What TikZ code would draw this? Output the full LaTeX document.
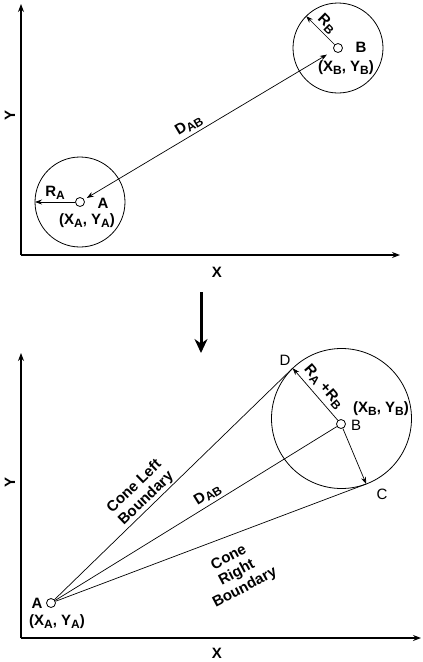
\documentclass[tikz,border=0pt]{standalone}
\usepackage{fontspec}
\setmainfont{Liberation Sans}
\usetikzlibrary{arrows.meta,positioning}
\newcommand{\idx}[1]{\raisebox{-0.35ex}{\fontsize{12}{13}\selectfont #1}}

\begin{document}
\begin{tikzpicture}[x=1pt,y=-1pt,
    every node/.style={font=\fontsize{15}{17}\selectfont\bfseries},
    plain/.style={font=\fontsize{15}{17}\selectfont},
    dot/.style={draw,circle,inner sep=0pt,minimum size=9pt,line width=0.8pt},
    ring/.style={draw,circle,inner sep=0pt,outer sep=0pt,line width=0.8pt},
    axis/.style={line width=1.1pt,-{Stealth[length=8pt,width=6pt]}},
    arr/.style={line width=0.7pt,-{Stealth[length=7pt,width=5pt]}},
    darr/.style={line width=0.7pt,{Stealth[length=7pt,width=5pt]}-{Stealth[length=7pt,width=5pt]}},
    bigarr/.style={line width=3pt,-{Stealth[length=14pt,width=13pt]}}]
  \useasboundingbox (0,0) rectangle (423,662);

  % top panel
  \coordinate (oT) at (21,255);
  \coordinate (yT) at (21,4);
  \coordinate (xT) at (400,255);
  \draw[axis] (oT) -- (yT);
  \draw[axis] (oT) -- (xT);
  \node[rotate=90] (labYT) at (10,115) {Y};
  \node (labXT) at (217,272) {X};

  \node[ring,minimum size=90pt] (cA) at (80,202) {};
  \node[dot] (pA) at (80,202) {};
  \node[ring,minimum size=90pt] (cB) at (338,48) {};
  \node[dot] (pB) at (338,48) {};

  \draw[arr] (pA.west) -- node[above,inner sep=2pt] {R\idx{A}} (cA.west);
  \draw[arr] (pB.135) -- node[above,sloped,inner sep=2pt] {R\idx{B}} (cB.135);
  \draw[darr,shorten <=3pt,shorten >=8pt] (pA) -- node[pos=0.44,above,sloped] {D\idx{AB}} (pB);

  \node (labA) at (103,203) {A};
  \node (xyA) at (87,221) {(X\idx{A}, Y\idx{A})};
  \node (labB) at (361,47) {B};
  \node (xyB) at (346,68) {(X\idx{B}, Y\idx{B})};

  % transition
  \coordinate (arTop) at (201,292);
  \coordinate (arBot) at (201,353);
  \draw[bigarr] (arTop) -- (arBot);

  % bottom panel
  \coordinate (oB) at (21,638);
  \coordinate (yB) at (21,353);
  \coordinate (xB) at (421,638);
  \draw[axis] (oB) -- (yB);
  \draw[axis] (oB) -- (xB);
  \node[rotate=90] (labYB) at (10,482) {Y};
  \node (labXB) at (217,653) {X};

  \node[dot] (pA2) at (51,603) {};
  \node[ring,minimum size=140pt] (cB2) at (341.5,418.5) {};
  \node[dot] (pB2) at (341,424) {};
  \coordinate (D) at (292.7,368.2);
  \coordinate (C) at (366.2,484);

  \draw[line width=0.7pt] (pA2) -- node[pos=0.41,above,sloped,align=center,inner sep=1pt] {Cone Left\\Boundary} (D);
  \draw[line width=0.7pt] (pA2) -- node[pos=0.56,above,sloped,inner sep=3pt] {D\idx{AB}} (pB2);
  \draw[line width=0.7pt] (pA2) -- (C);
  \draw[arr] (pB2) -- node[above,sloped,inner sep=4pt] {R\idx{A} +R\idx{B}} (D);
  \draw[arr] (pB2) -- (C);

  \node[rotate=28,align=center] (labR) at (237,573) {Cone\\Right\\Boundary};
  \node[plain] (labD) at (285,360) {D};
  \node[plain] (labC) at (382,494) {C};
  \node[plain] (labB2) at (356,425) {B};
  \node (xyB2) at (381,409) {(X\idx{B}, Y\idx{B})};
  \node (labA2) at (37,603) {A};
  \node (xyA2) at (57,622) {(X\idx{A}, Y\idx{A})};
\end{tikzpicture}
\end{document}
